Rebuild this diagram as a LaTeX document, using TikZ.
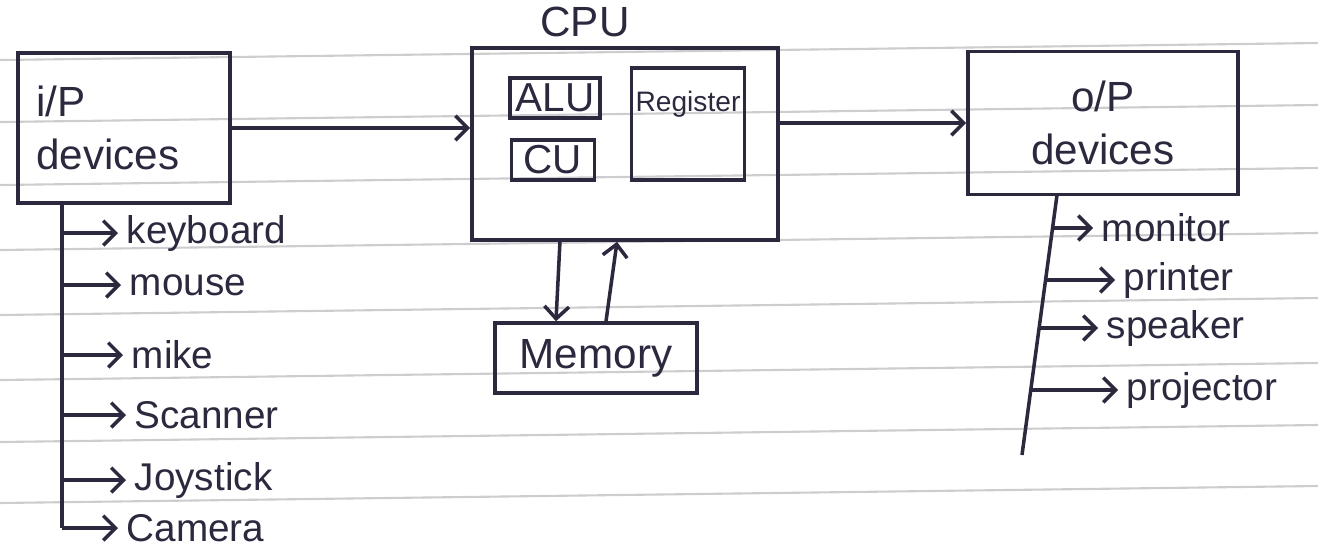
\documentclass[tikz,border=0pt]{standalone}
\usepackage{fontspec}
\setmainfont{Liberation Sans}
\usepackage{tikz}
\usetikzlibrary{calc,arrows.meta}
\definecolor{ink}{RGB}{45,40,62}
\definecolor{ruling}{RGB}{205,205,208}

\begin{document}
\begin{tikzpicture}[x=0.01cm,y=-0.01cm,
    >={Straight Barb[length=3.5pt,width=7pt]},
    color=ink,line width=1pt,
    unit/.style={draw,inner sep=2pt,font=\fontsize{12}{15}\selectfont},
    part/.style={draw,inner sep=1pt,font=\fontsize{11.5}{14}\selectfont},
    item/.style={anchor=west,inner sep=2pt,font=\fontsize{11}{13}\selectfont}]
  \useasboundingbox (0,0) rectangle (1318,551);

  %% Ruled lines of the notebook page
  \foreach \y in {60,122,185,250,315,380,442,503}
  {
    \draw[ruling,line width=0.6pt] (0,\y) -- (1318,\y-17);
  }

  %% The three main units
  \node[unit,minimum height=1.5cm,text width=1.75cm,inner sep=0.185cm,align=left] (ip) at (124,128) {i/P\\devices};
  \node[unit,minimum width=3.06cm,minimum height=1.92cm] (cpu) at (625,144) {};
  \node[anchor=south,inner sep=2pt,font=\fontsize{12}{15}\selectfont] (cpulbl) at ([xshift=-0.4cm]cpu.north) {CPU};
  \node[unit,minimum width=2.7cm,minimum height=1.43cm,align=center] (op) at (1103,123) {o/P\\devices};
  \node[unit,minimum width=2.02cm,minimum height=0.7cm] (mem) at (596,358) {Memory};

  %% Parts inside the CPU
  \node[part,minimum width=0.9cm,minimum height=0.4cm] (alu) at (555,98) {ALU};
  \node[part,minimum width=0.83cm,minimum height=0.4cm] (cu) at (553,160) {CU};
  \node[part,minimum width=1.13cm,minimum height=1.12cm] (reg) at (688,124) {};
  \node[anchor=north,inner sep=1pt,font=\fontsize{8}{10}\selectfont] (regtxt) at ([yshift=-0.2cm]reg.north) {Register};

  %% Data flow
  \draw[->] (ip.east) -- (ip.east -| cpu.west);
  \draw[->] (cpu.east |- op.west) -- (op.west);
  \draw[->] ([xshift=-0.65cm]cpu.south) -- ([xshift=-0.4cm]mem.north);
  \draw[->] ([xshift=0.1cm]mem.north) -- ([xshift=-0.08cm]cpu.south);

  %% Input devices
  \foreach \nm/\yy/\xx/\txt in {kb/233/118/keyboard, ms/285/121/mouse, mk/355/123/mike,
                                sc/415/126/Scanner, js/480/126/Joystick, cm/528/118/Camera}
  {
    \node[item] (\nm) at (\xx,\yy) {\txt};
    \coordinate (\nm-t) at (62,\yy);
    \draw[->] (\nm-t) -- (\nm.west);
  }
  \draw (ip.south -| cm-t) -- (cm-t);

  %% Output devices
  \coordinate (optop) at (1057,195);
  \coordinate (opbot) at (1022,455);
  \draw (optop) -- (opbot);
  \foreach \nm/\yy/\xx/\txt in {mn/228/1093/monitor, pr/280/1115/printer,
                                sp/328/1098/speaker, pj/390/1118/projector}
  {
    \node[item] (\nm) at (\xx,\yy) {\txt};
    \coordinate (\nm-t) at ($(optop)!{(\yy-195)/260}!(opbot)$);
    \draw[->] (\nm-t) -- (\nm.west);
  }
\end{tikzpicture}
\end{document}
